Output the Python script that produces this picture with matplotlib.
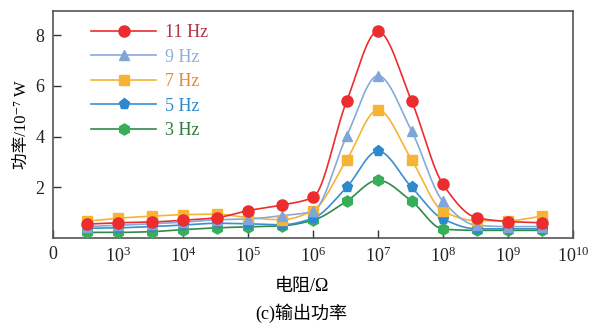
import numpy as np
import matplotlib
matplotlib.use("Agg")
import matplotlib.pyplot as plt
from matplotlib.ticker import FixedLocator, FuncFormatter, NullLocator
from matplotlib.lines import Line2D

plt.rcParams['font.family'] = ['Liberation Serif', 'DejaVu Serif', 'Noto Sans CJK SC']
plt.rcParams['mathtext.fontset'] = 'stix'

# resistance (ohm)
r_ohm = [330, 1e3, 3.3e3, 1e4, 3.3e4, 1e5, 3.3e5, 1e6, 3.3e6, 1e7, 3.3e7, 1e8, 3.3e8, 1e9, 3.3e9]

# output power (1e-7 W)
p_11hz = [0.55, 0.60, 0.63, 0.70, 0.80, 1.08, 1.30, 1.60, 5.40, 8.15, 5.40, 2.12, 0.80, 0.65, 0.60]
p_9hz = [0.45, 0.50, 0.56, 0.62, 0.72, 0.75, 0.88, 1.05, 4.02, 6.40, 4.22, 1.45, 0.50, 0.45, 0.45]
p_7hz = [0.66, 0.78, 0.86, 0.92, 0.94, 0.80, 0.72, 1.08, 3.08, 5.05, 3.08, 1.06, 0.68, 0.68, 0.86]
p_5hz = [0.38, 0.40, 0.45, 0.51, 0.58, 0.56, 0.52, 0.78, 2.00, 3.43, 2.00, 0.75, 0.36, 0.36, 0.36]
p_3hz = [0.22, 0.22, 0.25, 0.33, 0.40, 0.44, 0.48, 0.70, 1.45, 2.28, 1.45, 0.35, 0.30, 0.30, 0.30]

labels = ["11 Hz", "9 Hz", "7 Hz", "5 Hz", "3 Hz"]
line_colors = ["#EC2C2F", "#86AADB", "#F7B334", "#3A8FD0", "#2F8A48"]
marker_colors = ["#EC2C2F", "#7FA6D9", "#F7B334", "#2E88CC", "#37AE58"]
text_colors = ["#B23444", "#8FAEDC", "#E88A2E", "#2E8BC9", "#2E7D3E"]
markers = ["o", "^", "s", "p", "h"]
msizes = [8, 7.5, 7.5, 8, 8]


def smooth(xs, ys, n=400):
    # monotone cubic (pchip) through the points, in log-x space
    x = np.log10(np.asarray(xs, float))
    y = np.asarray(ys, float)
    h = np.diff(x)
    d = np.diff(y) / h
    m = np.zeros_like(y)
    for i in range(1, len(y) - 1):
        if d[i - 1] * d[i] > 0:
            w1 = 2 * h[i] + h[i - 1]
            w2 = h[i] + 2 * h[i - 1]
            m[i] = (w1 + w2) / (w1 / d[i - 1] + w2 / d[i])
    m[0] = d[0]
    m[-1] = d[-1]
    xx = np.linspace(x[0], x[-1], n)
    idx = np.clip(np.searchsorted(x, xx) - 1, 0, len(x) - 2)
    t = (xx - x[idx]) / h[idx]
    h00 = 2 * t ** 3 - 3 * t ** 2 + 1
    h10 = t ** 3 - 2 * t ** 2 + t
    h01 = -2 * t ** 3 + 3 * t ** 2
    h11 = t ** 3 - t ** 2
    yy = (h00 * y[idx] + h10 * h[idx] * m[idx]
          + h01 * y[idx + 1] + h11 * h[idx] * m[idx + 1])
    return 10 ** xx, yy


fig = plt.figure(figsize=(6.03, 3.26), dpi=100)
ax = fig.add_axes([0.088, 0.27, 0.862, 0.696])

series = [p_11hz, p_9hz, p_7hz, p_5hz, p_3hz]
# draw from bottom series up so that 11 Hz is on top
for k in range(len(series) - 1, -1, -1):
    sx, sy = smooth(r_ohm, series[k])
    ax.plot(sx, sy, color=line_colors[k], lw=1.2, zorder=2 + (5 - k))
    ax.plot(r_ohm, series[k], ls="none", marker=markers[k], ms=msizes[k],
            color=marker_colors[k], mec=marker_colors[k], zorder=10 + (5 - k))

handles = []
for k in range(len(series)):
    handles.append(Line2D([], [], color=line_colors[k], lw=1.2, marker=markers[k],
                          ms=msizes[k], mfc=marker_colors[k], mec=marker_colors[k]))

ax.set_xscale("log")
ax.set_xlim(1e2, 1e10)
ax.set_ylim(0, 8.95)

ax.xaxis.set_major_locator(FixedLocator([10.0 ** e for e in range(2, 11)]))
ax.xaxis.set_minor_locator(NullLocator())


def xfmt(v, pos):
    e = int(round(np.log10(v)))
    if e == 2:
        return "0"
    return r"$\mathregular{10^{%d}}$" % e


ax.xaxis.set_major_formatter(FuncFormatter(xfmt))
ax.set_yticks([2, 4, 6, 8])
ax.tick_params(direction="in", length=6, width=1, labelsize=13, colors="#333333",
               pad=6)
ax.tick_params(axis="both", labelcolor="#222222")
for s in ax.spines.values():
    s.set_color("#555555")
    s.set_linewidth(1.2)

ax.set_ylabel("功率/10\u207b\u2077 W", fontsize=12, labelpad=4)
fig.text(0.5, 0.12, "电阻/Ω", ha="center", va="center", fontsize=13)
fig.text(0.5, 0.04, "(c)输出功率", ha="center", va="center", fontsize=13)

leg = ax.legend(handles, labels, loc="upper left", bbox_to_anchor=(0.06, 0.975),
                frameon=False, fontsize=13, handlelength=3.6, labelspacing=0.42,
                handletextpad=0.45, borderaxespad=0)
for t, c in zip(leg.get_texts(), text_colors):
    t.set_color(c)

fig.savefig("out.png", dpi=100)
